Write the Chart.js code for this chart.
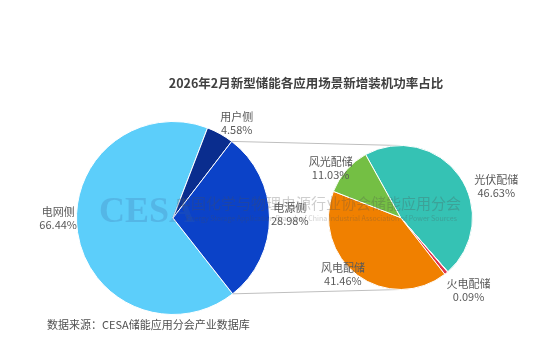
<!DOCTYPE html>
<html><head><meta charset="utf-8">
<script src="https://cdn.jsdelivr.net/npm/chart.js@4.4.1/dist/chart.umd.min.js"></script>
<style>
html,body{margin:0;padding:0;background:#fff;}
#wrap{position:relative;width:554px;height:358px;overflow:hidden;}
#wrap canvas{position:absolute;left:0;top:0;}
.t{position:absolute;font-family:"Microsoft YaHei","Noto Sans CJK SC",sans-serif;white-space:nowrap;}
</style></head><body>
<div id="wrap">
<canvas id="c1" width="554" height="358"></canvas>
<canvas id="c2" width="554" height="358"></canvas>
</div>
<script>
const titleText = '2026年2月新型储能各应用场景新增装机功率占比';
const sourceText = '数据来源：CESA储能应用分会产业数据库';
const leftLabels = ['电网侧','用户侧','电源侧'];
const leftValues = [66.44, 4.58, 28.98];
const rightLabels = ['光伏配储','火电配储','','风电配储','风光配储'];
const rightValues = [46.63, 0.09, 0.79, 41.46, 11.03];

const FONT = '"Microsoft YaHei","Noto Sans CJK SC",sans-serif';
const leftColors = ['#5ccefa','#0a2d8e','#0b42c8'];
const rightColors = ['#35c2b4','#f3a5ae','#e1344b','#f08000','#74bf44'];
// label block offsets relative to pie center, in units of radius
const leftLabelPos = [[-1.19,0.0],[0.66,-0.98],[1.21,-0.04]];
const rightLabelPos = [[1.33,-0.44],[0.945,1.01],null,[-0.80,0.79],[-0.97,-0.68]];

function labelPlugin(labels, values, pos){
  return {id:'lbl'+labels[0], afterDatasetsDraw(chart){
    const ctx = chart.ctx; const arcs = chart.getDatasetMeta(0).data;
    const a0 = arcs[0]; const cx=a0.x, cy=a0.y, r=a0.outerRadius;
    ctx.save(); ctx.font = '11px '+FONT; ctx.fillStyle='#595959';
    ctx.textAlign='center'; ctx.textBaseline='middle';
    labels.forEach((l,i)=>{ if(!pos[i]||!l) return;
      const x = cx+pos[i][0]*r, y = cy+pos[i][1]*r;
      ctx.fillText(l, x, y-6.5);
      ctx.fillText(values[i].toFixed(2)+'%', x, y+6.5);
    });
    ctx.restore();
  }};
}

Chart.defaults.animation = false;
const c1 = new Chart(document.getElementById('c1'), {
  type:'pie',
  data:{labels:leftLabels, datasets:[{data:leftValues, backgroundColor:leftColors, borderColor:'#fff', borderWidth:1}]},
  options:{responsive:false, devicePixelRatio:1, rotation:141.8,
    layout:{padding:{left:76,right:284,top:121,bottom:43}},
    plugins:{legend:{display:false}, tooltip:{enabled:false}}},
  plugins:[labelPlugin(leftLabels,leftValues,leftLabelPos), {id:'txt', afterDraw(chart){
    const ctx=chart.ctx; ctx.save();
    ctx.fillStyle='#404040'; ctx.font='bold 12.5px '+FONT; ctx.textAlign='center'; ctx.textBaseline='middle';
    ctx.fillText(titleText, 306, 83);
    ctx.fillStyle='#505050'; ctx.font='11px '+FONT; ctx.textAlign='left';
    ctx.fillText(sourceText, 47, 325);
    ctx.restore();
  }}]
});

const c2 = new Chart(document.getElementById('c2'), {
  type:'pie',
  data:{labels:rightLabels, datasets:[{data:rightValues, backgroundColor:rightColors, borderColor:'#fff', borderWidth:1}]},
  options:{responsive:false, devicePixelRatio:1, rotation:-29,
    layout:{padding:{left:328,right:81,top:145,bottom:68}},
    plugins:{legend:{display:false}, tooltip:{enabled:false}}},
  plugins:[labelPlugin(rightLabels,rightValues,rightLabelPos), {id:'lines',
    beforeDatasetsDraw(chart){
      const ctx=chart.ctx; const la=c1.getDatasetMeta(0).data; const ra=chart.getDatasetMeta(0).data[0];
      const p = la[2]; // 电源侧 slice edges
      const lcx=p.x, lcy=p.y, lr=p.outerRadius;
      const s = p.startAngle, e = p.endAngle;
      ctx.save(); ctx.strokeStyle='#bfbfbf'; ctx.lineWidth=1;
      ctx.beginPath();
      ctx.moveTo(lcx+Math.cos(s)*lr, lcy+Math.sin(s)*lr); ctx.lineTo(ra.x, ra.y-ra.outerRadius);
      ctx.moveTo(lcx+Math.cos(e)*lr, lcy+Math.sin(e)*lr); ctx.lineTo(ra.x, ra.y+ra.outerRadius);
      ctx.stroke(); ctx.restore();
    },
    afterDraw(chart){
      const ctx=chart.ctx; ctx.save();
      ctx.textBaseline='alphabetic'; ctx.textAlign='left';
      ctx.fillStyle='rgba(60,100,160,0.22)'; ctx.font='bold 36px "Liberation Serif","DejaVu Serif",serif';
      ctx.fillText('CESA', 99, 222);
      ctx.fillStyle='rgba(80,80,80,0.28)'; ctx.font='15px '+FONT;
      ctx.fillText('中国化学与物理电源行业协会储能应用分会', 176, 209);
      ctx.font='7px '+FONT; ctx.fillStyle='rgba(80,80,80,0.28)';
      ctx.fillText('Energy Storage Application Branch of China Industrial Association of Power Sources', 186, 221);
      ctx.restore();
    }}]
});
</script>
</body></html>
